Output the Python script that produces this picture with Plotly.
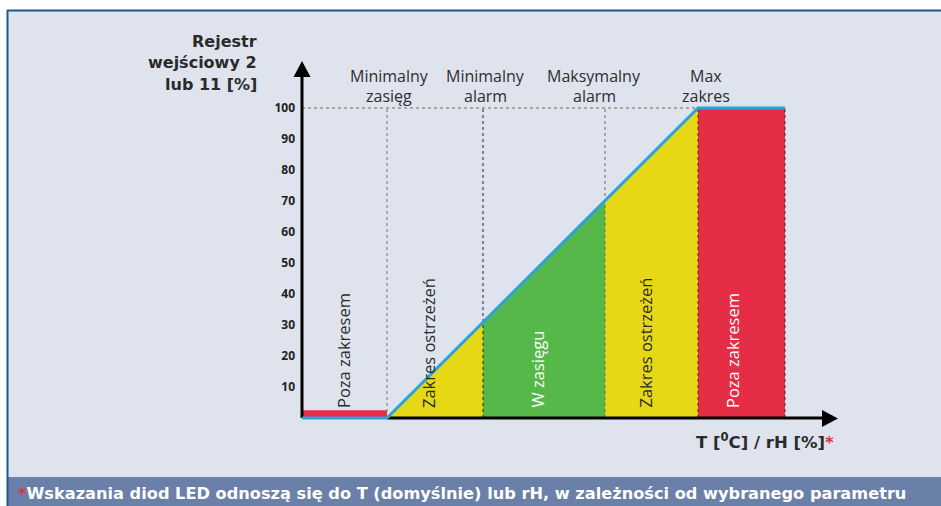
import plotly.graph_objects as go

# ---------------- data ----------------
# zone boundaries along the input axis (arbitrary units, origin at y-axis)
zone_edges = [0, 85, 181, 303, 396, 483]
# register value (%) of the response line at each boundary
line_values = [0, 0, 31, 70, 100, 100]
zone_names = ["Poza zakresem", "Zakres ostrzeżeń", "W zasięgu", "Zakres ostrzeżeń", "Poza zakresem"]
zone_colors = ["#e52d45", "#e6d817", "#57b84a", "#e6d817", "#e52d45"]
zone_text_colors = ["#2a2a2a", "#2a2a2a", "#ffffff", "#2a2a2a", "#ffffff"]
out_low_height = 2.5  # small red bar below minimal range
y_ticks = [10, 20, 30, 40, 50, 60, 70, 80, 90, 100]
top_labels_1 = ["Minimalny", "Minimalny", "Maksymalny", "Max"]
top_labels_2 = ["zasięg", "alarm", "alarm", "zakres"]
y_title = ["Rejestr", "wejściowy 2", "lub 11 [%]"]
x_title = "T [<sup>0</sup>C] / rH [%]"
footnote = "Wskazania diod LED odnoszą się do T (domyślnie) lub rH, w zależności od wybranego parametru"

FONT = "Open Sans"
BOLD = "DejaVu Sans"
W, H = 941, 506
ML = 300
BG = "#dfe3ee"


def pxx(p):
    return (p - ML) / (W - ML)


def pxy(p):
    return 1 - p / H


def dy(py):
    return (418 - py) / 3.1


fig = go.Figure()

# zones
for i in range(5):
    x0, x1 = zone_edges[i], zone_edges[i + 1]
    if i == 0:
        xs = [x0, x1, x1, x0, x0]
        ys = [0, 0, out_low_height, out_low_height, 0]
    else:
        xs = [x0, x1, x1, x0, x0]
        ys = [0, 0, line_values[i + 1], line_values[i], 0]
    fig.add_trace(go.Scatter(x=xs, y=ys, fill="toself", fillcolor=zone_colors[i],
                             line=dict(width=0), mode="lines", hoverinfo="skip",
                             showlegend=False))

# dotted reference lines
dot_colors = ["#7d7a4e", "#222222", "#666666", "#333333", "#333333"]
for i, e in enumerate(zone_edges[1:]):
    fig.add_trace(go.Scatter(x=[e, e], y=[0, 100], mode="lines",
                             line=dict(color=dot_colors[i], width=1, dash="dot"),
                             hoverinfo="skip", showlegend=False))
fig.add_trace(go.Scatter(x=[zone_edges[0], zone_edges[4]], y=[100, 100], mode="lines",
                         line=dict(color="#6f6c4c", width=1, dash="dot"),
                         hoverinfo="skip", showlegend=False))

# axes (black) - x axis starts where the blue line leaves zero
fig.add_trace(go.Scatter(x=[zone_edges[1], 823 - 302], y=[0, 0], mode="lines",
                         line=dict(color="#000000", width=3), hoverinfo="skip", showlegend=False))
fig.add_trace(go.Scatter(x=[0, 0], y=[0, dy(76)], mode="lines",
                         line=dict(color="#000000", width=3), hoverinfo="skip", showlegend=False))

# response line
fig.add_trace(go.Scatter(x=[zone_edges[0], zone_edges[1], zone_edges[4], zone_edges[5]],
                         y=[line_values[0], line_values[1], line_values[4], line_values[5]],
                         mode="lines", line=dict(color="#27a4dc", width=3),
                         hoverinfo="skip", showlegend=False))

shapes = [
    # light background panel
    dict(type="rect", xref="paper", yref="paper", x0=pxx(7), x1=pxx(W + 2), y0=pxy(477), y1=pxy(10),
         fillcolor=BG, line=dict(width=0), layer="below"),
    # footer band
    dict(type="rect", xref="paper", yref="paper", x0=pxx(7), x1=pxx(W + 2), y0=pxy(H + 2), y1=pxy(477),
         fillcolor="#6b80a8", line=dict(width=0), layer="below"),
    # border lines
    dict(type="line", xref="paper", yref="paper", x0=pxx(7), x1=pxx(W + 2), y0=pxy(10.5), y1=pxy(10.5),
         line=dict(color="#1b5a8c", width=2), layer="above"),
    dict(type="line", xref="paper", yref="paper", x0=pxx(7.5), x1=pxx(7.5), y0=pxy(10), y1=pxy(H + 2),
         line=dict(color="#1b5a8c", width=2), layer="above"),
    # arrow heads
    dict(type="path", xref="paper", yref="paper",
         path=f"M {pxx(302)} {pxy(61)} L {pxx(310.5)} {pxy(77)} L {pxx(293.5)} {pxy(77)} Z",
         fillcolor="#000000", line=dict(width=0), layer="above"),
    dict(type="path", xref="paper", yref="paper",
         path=f"M {pxx(838)} {pxy(418.5)} L {pxx(822)} {pxy(410)} L {pxx(822)} {pxy(427)} Z",
         fillcolor="#000000", line=dict(width=0), layer="above"),
]

annotations = []
# zone labels (vertical)
label_shift = [-1, -7, -7, -7, -9]
for i, name in enumerate(zone_names):
    xc = (zone_edges[i] + zone_edges[i + 1]) / 2
    annotations.append(dict(x=xc, y=dy(410), xref="x", yref="y", text=name, textangle=-90,
                            showarrow=False, xanchor="center", yanchor="bottom",
                            xshift=label_shift[i],
                            font=dict(family=FONT, size=16.5, color=zone_text_colors[i])))

# top labels
top_shift = [2, 2, -11, 8]
for i in range(4):
    e = zone_edges[i + 1]
    annotations.append(dict(x=e, y=pxy(75.5), xref="x", yref="paper", text=top_labels_1[i],
                            showarrow=False, xanchor="center", yanchor="middle", xshift=top_shift[i],
                            font=dict(family=FONT, size=16, color="#2e2e2e")))
    annotations.append(dict(x=e, y=pxy(95.5), xref="x", yref="paper", text=top_labels_2[i],
                            showarrow=False, xanchor="center", yanchor="middle", xshift=top_shift[i],
                            font=dict(family=FONT, size=16, color="#2e2e2e")))

# y title
for j, t in enumerate(y_title):
    annotations.append(dict(x=pxx(259), y=pxy(42 + 21 * j), xref="paper", yref="paper", text=t,
                            showarrow=False, xanchor="right", yanchor="middle",
                            font=dict(family=BOLD, size=16, color="#2a2a2a", weight="bold")))

# x title
annotations.append(dict(x=pxx(836), y=pxy(441), xref="paper", yref="paper",
                        text=x_title + "<span style='color:#e52d45'>*</span>",
                        showarrow=False, xanchor="right", yanchor="middle",
                        font=dict(family=BOLD, size=16.5, color="#2a2a2a", weight="bold")))

# footnote
annotations.append(dict(x=pxx(16), y=pxy(493), xref="paper", yref="paper",
                        text="<span style='color:#e52d45'>*</span>" + footnote,
                        showarrow=False, xanchor="left", yanchor="middle",
                        font=dict(family=BOLD, size=16.2, color="#ffffff", weight="bold")))

fig.update_layout(
    width=W, height=H,
    margin=dict(l=ML, r=0, t=0, b=0),
    paper_bgcolor="#ffffff",
    plot_bgcolor="rgba(0,0,0,0)",
    showlegend=False,
    shapes=shapes,
    annotations=annotations,
    xaxis=dict(range=[-2, W - ML - 2], visible=False, fixedrange=True),
    yaxis=dict(range=[dy(H), dy(0)], tickvals=y_ticks, ticktext=[str(v) for v in y_ticks],
               showgrid=False, zeroline=False, showline=False, ticks="",
               ticklabelstandoff=4,
               tickfont=dict(family=FONT, size=12, color="#222222", weight="bold"),
               fixedrange=True),
)

fig.write_html("out.html", config={"displayModeBar": False},
               post_script="document.body.style.margin='0';document.body.style.overflow='hidden';")
